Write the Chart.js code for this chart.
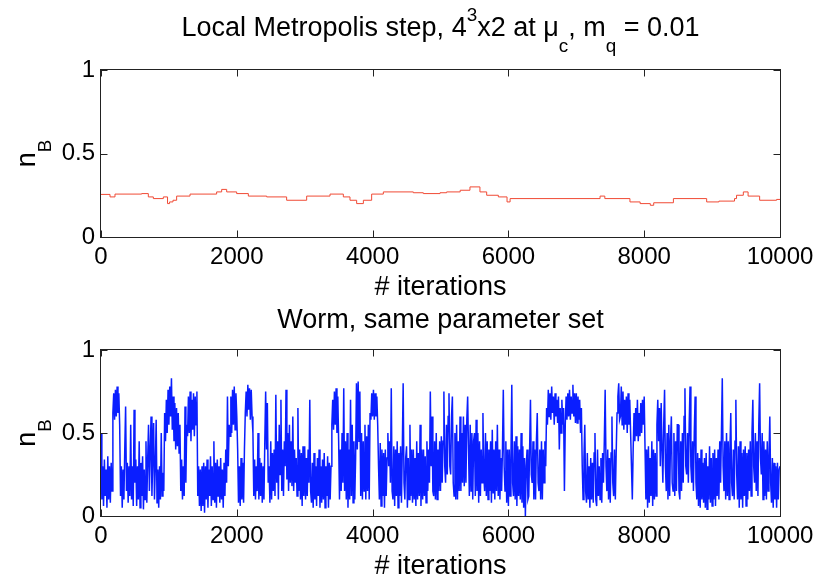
<!DOCTYPE html>
<html>
<head>
<meta charset="utf-8">
<script src="https://cdn.jsdelivr.net/npm/chart.js@4.4.1/dist/chart.umd.min.js"></script>
<style>
  html, body { margin: 0; padding: 0; background: #fff; }
  #wrap { position: relative; width: 824px; height: 576px; }
  #topChart { position: absolute; left: 0; top: 0; }
  #bottomChart { position: absolute; left: 0; top: 305px; }
</style>
</head>
<body>
<div id="wrap">
  <canvas id="topChart" width="824" height="305"></canvas>
  <canvas id="bottomChart" width="824" height="271"></canvas>
</div>
<script>
// tick labels
const xTicks = [0, 2000, 4000, 6000, 8000, 10000];
const yTicks = [0, 0.5, 1];

// local Metropolis: n_B at the iterations where it changes (held until next point)
const redIter = [0, 133, 206, 599, 697, 771, 918, 980, 1010, 1060, 1114, 1311, 1703, 1777, 1851, 1998,
  2170, 2440, 2734, 3029, 3373, 3569, 3667, 3765, 3864, 3986, 4158, 4600, 4747, 4993, 5090, 5290,
  5434, 5581, 5680, 5852, 5980, 6025, 7350, 7420, 7790, 7940, 8090, 8140, 8430, 8920, 9100, 9330,
  9360, 9460, 9530, 9700, 9950, 10000];
const redNB = [0.255, 0.24, 0.257, 0.26, 0.24, 0.23, 0.24, 0.20, 0.21, 0.22, 0.245, 0.257, 0.27, 0.285, 0.27, 0.26,
  0.245, 0.24, 0.22, 0.245, 0.257, 0.24, 0.22, 0.20, 0.22, 0.257, 0.27, 0.265, 0.26, 0.265, 0.27, 0.28,
  0.30, 0.27, 0.25, 0.24, 0.21, 0.23, 0.245, 0.23, 0.21, 0.20, 0.19, 0.205, 0.23, 0.21, 0.215, 0.23,
  0.25, 0.27, 0.245, 0.22, 0.225, 0.225];

// worm algorithm: n_B every 12.5 iterations (one row = 500 iterations)
const blueStep = 12.5;
const blueNB = [
  0.50, 0.10, 0.30, 0.06, 0.34, 0.12, 0.28, 0.05, 0.36, 0.10, 0.30, 0.08, 0.32, 0.15, 0.62, 0.74, 0.58, 0.76, 0.60, 0.78,
  0.62, 0.74, 0.55, 0.12, 0.30, 0.05, 0.28, 0.10, 0.40, 0.66, 0.15, 0.32, 0.08, 0.30, 0.12, 0.55, 0.10, 0.30, 0.06, 0.64,
  0.20, 0.34, 0.06, 0.30, 0.10, 0.45, 0.05, 0.32, 0.12, 0.36, 0.04, 0.28, 0.10, 0.45, 0.08, 0.34, 0.55, 0.15, 0.40, 0.60,
  0.12, 0.35, 0.56, 0.10, 0.30, 0.58, 0.08, 0.28, 0.05, 0.30, 0.10, 0.50, 0.12, 0.26, 0.15, 0.62, 0.45, 0.70, 0.50, 0.76,
  0.55, 0.78, 0.60, 0.83, 0.52, 0.72, 0.45, 0.68, 0.40, 0.65, 0.42, 0.62, 0.38, 0.55, 0.15, 0.34, 0.10, 0.30, 0.12, 0.66,
  0.20, 0.55, 0.48, 0.72, 0.50, 0.75, 0.45, 0.70, 0.52, 0.74, 0.48, 0.72, 0.55, 0.75, 0.12, 0.30, 0.06, 0.28, 0.03, 0.30,
  0.06, 0.32, 0.02, 0.30, 0.10, 0.34, 0.05, 0.28, 0.12, 0.36, 0.06, 0.30, 0.10, 0.45, 0.08, 0.32, 0.05, 0.34, 0.12, 0.30,
  0.08, 0.35, 0.10, 0.28, 0.05, 0.32, 0.12, 0.40, 0.20, 0.72, 0.30, 0.55, 0.48, 0.72, 0.50, 0.76, 0.55, 0.78, 0.52, 0.74,
  0.60, 0.40, 0.08, 0.30, 0.06, 0.35, 0.10, 0.32, 0.08, 0.40, 0.62, 0.75, 0.60, 0.79, 0.64, 0.77, 0.58, 0.76, 0.60, 0.50,
  0.12, 0.34, 0.10, 0.30, 0.15, 0.50, 0.10, 0.35, 0.12, 0.32, 0.08, 0.30, 0.10, 0.45, 0.75, 0.40, 0.68, 0.20, 0.30, 0.08,
  0.45, 0.10, 0.38, 0.15, 0.40, 0.12, 0.73, 0.20, 0.45, 0.10, 0.55, 0.25, 0.70, 0.15, 0.40, 0.12, 0.45, 0.30, 0.76, 0.22,
  0.50, 0.15, 0.55, 0.20, 0.45, 0.18, 0.60, 0.15, 0.40, 0.20, 0.35, 0.12, 0.65, 0.15, 0.40, 0.10, 0.38, 0.06, 0.42, 0.12,
  0.42, 0.10, 0.35, 0.12, 0.40, 0.20, 0.70, 0.15, 0.08, 0.32, 0.05, 0.38, 0.10, 0.30, 0.06, 0.35, 0.12, 0.40, 0.05, 0.30,
  0.08, 0.34, 0.10, 0.38, 0.05, 0.30, 0.12, 0.36, 0.05, 0.32, 0.10, 0.30, 0.55, 0.70, 0.52, 0.75, 0.55, 0.77, 0.50, 0.72,
  0.45, 0.10, 0.40, 0.15, 0.50, 0.20, 0.77, 0.15, 0.45, 0.10, 0.50, 0.05, 0.40, 0.10, 0.70, 0.12, 0.55, 0.08, 0.45, 0.10,
  0.35, 0.80, 0.40, 0.81, 0.45, 0.75, 0.12, 0.50, 0.10, 0.45, 0.15, 0.55, 0.10, 0.48, 0.15, 0.55, 0.10, 0.62, 0.58, 0.74,
  0.60, 0.76, 0.58, 0.74, 0.60, 0.72, 0.55, 0.30, 0.10, 0.44, 0.06, 0.40, 0.12, 0.38, 0.05, 0.40, 0.12, 0.35, 0.50, 0.30,
  0.45, 0.20, 0.77, 0.15, 0.10, 0.42, 0.06, 0.40, 0.12, 0.45, 0.05, 0.38, 0.12, 0.42, 0.08, 0.40, 0.80, 0.20, 0.10, 0.35,
  0.42, 0.05, 0.35, 0.10, 0.55, 0.12, 0.40, 0.08, 0.40, 0.10, 0.35, 0.06, 0.45, 0.10, 0.38, 0.12, 0.55, 0.06, 0.40, 0.10,
  0.40, 0.12, 0.36, 0.08, 0.45, 0.15, 0.40, 0.20, 0.75, 0.30, 0.60, 0.15, 0.12, 0.45, 0.10, 0.50, 0.10, 0.40, 0.15, 0.45,
  0.15, 0.48, 0.20, 0.45, 0.75, 0.30, 0.20, 0.55, 0.25, 0.60, 0.74, 0.30, 0.25, 0.60, 0.72, 0.20, 0.12, 0.50, 0.10, 0.55,
  0.10, 0.45, 0.15, 0.60, 0.15, 0.50, 0.20, 0.60, 0.18, 0.55, 0.20, 0.58, 0.72, 0.40, 0.12, 0.55, 0.15, 0.50, 0.10, 0.45,
  0.50, 0.12, 0.58, 0.15, 0.50, 0.08, 0.45, 0.12, 0.40, 0.20, 0.62, 0.25, 0.15, 0.50, 0.12, 0.45, 0.10, 0.40, 0.15, 0.45,
  0.08, 0.52, 0.14, 0.40, 0.10, 0.45, 0.15, 0.55, 0.12, 0.40, 0.10, 0.35, 0.15, 0.40, 0.76, 0.30, 0.15, 0.45, 0.08, 0.40,
  0.06, 0.40, 0.12, 0.35, 0.79, 0.20, 0.12, 0.45, 0.10, 0.48, 0.06, 0.42, 0.12, 0.40, 0.10, 0.50, 0.08, 0.42, 0.05, 0.35,
  0.00, 0.30, 0.40, 0.10, 0.12, 0.40, 0.70, 0.25, 0.20, 0.45, 0.10, 0.40, 0.10, 0.45, 0.62, 0.20, 0.15, 0.40, 0.10, 0.45,
  0.10, 0.40, 0.20, 0.45, 0.30, 0.65, 0.55, 0.76, 0.60, 0.74, 0.58, 0.78, 0.62, 0.72, 0.55, 0.74, 0.60, 0.70, 0.56, 0.72,
  0.40, 0.65, 0.50, 0.70, 0.55, 0.65, 0.15, 0.55, 0.72, 0.58, 0.74, 0.60, 0.76, 0.58, 0.72, 0.62, 0.79, 0.60, 0.74, 0.56,
  0.74, 0.56, 0.72, 0.58, 0.70, 0.50, 0.65, 0.30, 0.10, 0.35, 0.55, 0.15, 0.08, 0.38, 0.10, 0.30, 0.05, 0.35, 0.10, 0.32,
  0.08, 0.38, 0.50, 0.10, 0.06, 0.40, 0.12, 0.30, 0.10, 0.35, 0.08, 0.38, 0.20, 0.45, 0.76, 0.30, 0.15, 0.40, 0.10, 0.35,
  0.08, 0.38, 0.60, 0.20, 0.12, 0.40, 0.10, 0.38, 0.62, 0.72, 0.80, 0.58, 0.60, 0.78, 0.55, 0.75, 0.52, 0.70, 0.55, 0.72,
  0.50, 0.74, 0.55, 0.70, 0.50, 0.30, 0.10, 0.40, 0.62, 0.45, 0.65, 0.48, 0.70, 0.45, 0.62, 0.48, 0.68, 0.50, 0.70, 0.55,
  0.72, 0.40, 0.10, 0.40, 0.05, 0.42, 0.08, 0.35, 0.12, 0.45, 0.06, 0.40, 0.10, 0.38, 0.12, 0.55, 0.70, 0.45, 0.65, 0.30,
  0.68, 0.40, 0.20, 0.55, 0.76, 0.30, 0.15, 0.50, 0.10, 0.55, 0.12, 0.45, 0.60, 0.20, 0.15, 0.50, 0.12, 0.45, 0.15, 0.55,
  0.55, 0.15, 0.10, 0.45, 0.15, 0.50, 0.20, 0.60, 0.77, 0.30, 0.25, 0.50, 0.20, 0.55, 0.78, 0.30, 0.20, 0.45, 0.15, 0.50,
  0.72, 0.20, 0.10, 0.38, 0.06, 0.35, 0.05, 0.40, 0.10, 0.32, 0.08, 0.35, 0.05, 0.38, 0.04, 0.30, 0.10, 0.42, 0.08, 0.35,
  0.06, 0.38, 0.10, 0.40, 0.06, 0.35, 0.12, 0.40, 0.10, 0.45, 0.20, 0.50, 0.83, 0.30, 0.15, 0.45, 0.10, 0.50, 0.12, 0.45,
  0.10, 0.40, 0.62, 0.20, 0.12, 0.40, 0.10, 0.45, 0.70, 0.25, 0.10, 0.42, 0.05, 0.45, 0.10, 0.38, 0.05, 0.40, 0.12, 0.42,
  0.06, 0.38, 0.10, 0.40, 0.15, 0.45, 0.12, 0.50, 0.70, 0.30, 0.20, 0.50, 0.15, 0.45, 0.12, 0.55, 0.80, 0.35, 0.25, 0.50,
  0.10, 0.45, 0.12, 0.40, 0.10, 0.45, 0.15, 0.35, 0.60, 0.20, 0.08, 0.35, 0.05, 0.32, 0.10, 0.30, 0.05, 0.32, 0.10, 0.28,
  0.30
];
const blueIter = blueNB.map((_, i) => i * blueStep);

// titles and labels, as [text, 'n' | 'sup' | 'sub']
const topTitle = [['Local Metropolis step, 4', 'n'], ['3', 'sup'], ['x2 at \u03bc', 'n'], ['c', 'sub'],
  [', m', 'n'], ['q', 'sub'], [' = 0.01', 'n']];
const bottomTitle = [['Worm, same parameter set', 'n']];
const xLabel = [['# iterations', 'n']];
const yLabel = [['n', 'n'], ['B', 'sub']];

const FONT = '"Liberation Sans", Arial, Helvetica, sans-serif';
Chart.defaults.font.family = FONT;
Chart.defaults.color = '#000';

function drawRich(ctx, parts, cx, base, size) {
  const sz = { n: size, sup: size * 0.7, sub: size * 0.7 };
  const dy = { n: 0, sup: -size * 0.55, sub: size * 0.6 };
  let total = 0;
  const ws = parts.map(([t, k]) => {
    ctx.font = sz[k] + 'px ' + FONT;
    const w = ctx.measureText(t).width;
    total += w;
    return w;
  });
  let x = cx - total / 2;
  ctx.textAlign = 'left';
  ctx.textBaseline = 'alphabetic';
  ctx.fillStyle = '#000';
  parts.forEach(([t, k], i) => {
    ctx.font = sz[k] + 'px ' + FONT;
    ctx.fillText(t, x, base + dy[k]);
    x += ws[i];
  });
}

// MATLAB-style box with inward ticks on all sides, plus the texts
const framePlugin = {
  id: 'frame',
  afterDraw(chart, args, opts) {
    const { ctx, chartArea: a, scales } = chart;
    const L = a.left - 0.5, R = a.right + 0.5, T = a.top - 0.5, B = a.bottom + 0.5;
    ctx.save();
    ctx.strokeStyle = '#222';
    ctx.lineWidth = 1;
    ctx.strokeRect(L, T, R - L, B - T);
    ctx.beginPath();
    scales.x.ticks.forEach(t => {
      const px = Math.round(scales.x.getPixelForValue(t.value)) + 0.5;
      ctx.moveTo(px, B); ctx.lineTo(px, B - 7);
      ctx.moveTo(px, T); ctx.lineTo(px, T + 7);
    });
    scales.y.ticks.forEach(t => {
      const py = Math.round(scales.y.getPixelForValue(t.value)) + 0.5;
      ctx.moveTo(L, py); ctx.lineTo(L + 7, py);
      ctx.moveTo(R, py); ctx.lineTo(R - 7, py);
    });
    ctx.stroke();

    const cx = (a.left + a.right) / 2;
    drawRich(ctx, opts.title, cx, opts.titleBase, 27);
    drawRich(ctx, xLabel, cx, a.bottom + 58, 27);
    ctx.translate(35, (a.top + a.bottom) / 2);
    ctx.rotate(-Math.PI / 2);
    drawRich(ctx, yLabel, 0, 0, 27);
    ctx.restore();
  }
};

function makeChart(id, datasets, padTop, xHeight, title, titleBase) {
  return new Chart(document.getElementById(id), {
    type: 'line',
    data: { datasets },
    plugins: [framePlugin],
    options: {
      responsive: false,
      animation: false,
      layout: { padding: { top: padTop, right: 44, left: 0, bottom: 0 } },
      plugins: {
        legend: { display: false },
        tooltip: { enabled: false },
        frame: { title, titleBase }
      },
      elements: { point: { radius: 0 }, line: { tension: 0 } },
      scales: {
        x: {
          type: 'linear', min: 0, max: 10000,
          grid: { display: false, drawTicks: false },
          border: { display: false },
          afterBuildTicks: s => { s.ticks = xTicks.map(v => ({ value: v })); },
          afterFit: s => { s.height = xHeight; },
          ticks: { font: { size: 24 }, padding: 6, maxRotation: 0, autoSkip: false, callback: v => String(v) }
        },
        y: {
          type: 'linear', min: 0, max: 1,
          grid: { display: false, drawTicks: false },
          border: { display: false },
          afterBuildTicks: s => { s.ticks = yTicks.map(v => ({ value: v })); },
          afterFit: s => { s.width = 101; },
          ticks: { font: { size: 24 }, padding: 6, callback: v => String(v) }
        }
      }
    }
  });
}

makeChart('topChart', [{
  data: redIter.map((x, i) => ({ x, y: redNB[i] })),
  borderColor: '#f04a35', borderWidth: 1, stepped: true
}], 70, 68, topTitle, 36);

makeChart('bottomChart', [{
  data: blueIter.map((x, i) => ({ x, y: blueNB[i] })),
  borderColor: '#0a1eff', borderWidth: 1.5
}], 45, 60, bottomTitle, 23);
</script>
</body>
</html>
